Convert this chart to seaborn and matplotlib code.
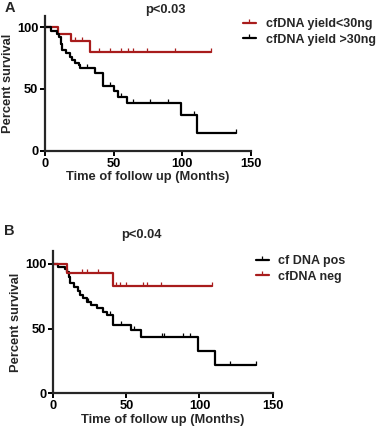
import numpy as np
import pandas as pd
import matplotlib
matplotlib.use("Agg")
import matplotlib.pyplot as plt
import seaborn as sns
from matplotlib.lines import Line2D

sns.set_theme(style="ticks")
plt.rcParams['font.family'] = ['Liberation Sans', 'DejaVu Sans']
plt.rcParams['font.weight'] = 'bold'

RED = "#A81C1C"
BLACK = "#000000"

# ---------- Panel A data ----------
a_low_t = [0, 9.5, 18.5, 32.7, 121]
a_low_s = [100, 94.5, 88.5, 79.7, 79.7]
a_low_cens = [22, 26.5, 39, 47, 55, 60.5, 64.3, 74, 94.5, 121]

a_high_t = [0, 4.2, 8.5, 10, 11.5, 12.3, 15, 18, 19.5, 21.7, 24.6, 25.3, 36.3, 42,
            50.2, 53.2, 60, 99.5, 110.8, 139]
a_high_s = [100, 97.4, 94.8, 92.1, 86.8, 81.6, 78.9, 76.3, 73.7, 71.0, 69.6, 66.8, 63.2, 52.8,
            48.5, 43.8, 38.9, 28.9, 14.7, 14.7]
a_high_cens = [30.5, 47, 55.3, 64, 76.5, 89.4, 109, 139]

# ---------- Panel B data ----------
b_pos_t = [0, 3, 8, 9.4, 10.7, 11.4, 14.2, 16.9, 18.3, 20.3, 23, 25.8, 29.9, 34, 36.7, 40.8,
           53.1, 60, 99.1, 110.5, 138.6]
b_pos_s = [100, 97.9, 96.0, 93.5, 90.0, 85.5, 82.5, 79.0, 76.0, 73.8, 70.9, 68.6, 66.2, 63.1, 60.6, 53.0,
           49.2, 43.5, 32.6, 21.9, 21.9]
b_pos_cens = [23.5, 38.5, 46.3, 55, 74.1, 76, 88.5, 93.5, 120.8, 138.6]

b_neg_t = [0, 9.2, 40.7, 108.5]
b_neg_s = [100, 93.0, 82.8, 82.8]
b_neg_cens = [20, 23.2, 30.7, 43, 46, 49.7, 61.5, 64, 74, 108.5]

x_ticks = [0, 50, 100, 150]
y_ticks = [0, 50, 100]

FS = 9.3
LFS = 9.0


def step_val(ts, ss, t):
    idx = np.searchsorted(np.asarray(ts), t, side='right') - 1
    return np.asarray(ss)[idx]


def draw_curve(ax, ts, ss, cens, color, label):
    df = pd.DataFrame({"t": ts, "s": ss})
    sns.lineplot(data=df, x="t", y="s", ax=ax, color=color, lw=1.6,
                 drawstyle="steps-post", estimator=None, sort=False, label=label,
                 legend=False)
    cy = [step_val(ts, ss, c) for c in cens]
    ax.plot(cens, cy, ls="none", marker=2, ms=3.0, mew=0.9, color=color)


def style_ax(ax, ymax):
    ax.set_xlim(0, 150)
    ax.set_ylim(0, ymax)
    ax.set_xticks(x_ticks)
    ax.set_yticks(y_ticks)
    ax.set_xticklabels([str(v) for v in x_ticks], fontsize=FS, fontweight='bold')
    ax.set_yticklabels([str(v) for v in y_ticks], fontsize=FS, fontweight='bold')
    ax.set_xlabel("Time of follow up (Months)", fontsize=FS, fontweight='bold', labelpad=1)
    ax.set_ylabel("Percent survival", fontsize=FS, fontweight='bold', labelpad=2)
    sns.despine(ax=ax)
    for sp in ("left", "bottom"):
        ax.spines[sp].set_linewidth(1.6)
    ax.tick_params(axis='both', width=1.4, length=3.5, pad=1.5, color='black', labelcolor='black')
    ax.margins(0)


fig = plt.figure(figsize=(3.8, 4.33), dpi=100)

# Panel A
axA = fig.add_axes([0.119, 0.652, 0.5405, 0.3106])
draw_curve(axA, a_low_t, a_low_s, a_low_cens, RED, "cfDNA yield<30ng")
draw_curve(axA, a_high_t, a_high_s, a_high_cens, BLACK, "cfDNA yield >30ng")
style_ax(axA, 109)
hA = [Line2D([], [], color=RED, lw=1.6, marker=2, ms=3.0, mew=0.9),
      Line2D([], [], color=BLACK, lw=1.6, marker=2, ms=3.0, mew=0.9)]
axA.legend(hA, ["cfDNA yield<30ng", "cfDNA yield >30ng"], loc="upper left",
           bbox_to_anchor=(243 / 380, 1 - 18 / 433), bbox_transform=fig.transFigure,
           frameon=False, handlelength=1.0, handletextpad=0.8, borderpad=0,
           borderaxespad=0, labelspacing=0.3, prop={'size': LFS, 'weight': 'bold'})
fig.text(165 / 380, 1 - 10 / 433, "p<0.03", ha="center", va="center", fontsize=FS, fontweight='bold')
fig.text(5 / 380, 1 - 8 / 433, "A", ha="left", va="center", fontsize=10.5, fontweight='bold')

# Panel B
axB = fig.add_axes([0.140, 0.0917, 0.5774, 0.3285])
draw_curve(axB, b_pos_t, b_pos_s, b_pos_cens, BLACK, "cf DNA pos")
draw_curve(axB, b_neg_t, b_neg_s, b_neg_cens, RED, "cfDNA neg")
style_ax(axB, 110)
hB = [Line2D([], [], color=BLACK, lw=1.6, marker=2, ms=3.0, mew=0.9),
      Line2D([], [], color=RED, lw=1.6, marker=2, ms=3.0, mew=0.9)]
axB.legend(hB, ["cf DNA pos", "cfDNA neg"], loc="upper left",
           bbox_to_anchor=(256 / 380, 1 - 255 / 433), bbox_transform=fig.transFigure,
           frameon=False, handlelength=1.0, handletextpad=0.8, borderpad=0,
           borderaxespad=0, labelspacing=0.3, prop={'size': LFS, 'weight': 'bold'})
fig.text(141 / 380, 1 - 235 / 433, "p<0.04", ha="center", va="center", fontsize=FS, fontweight='bold')
fig.text(4 / 380, 1 - 231 / 433, "B", ha="left", va="center", fontsize=10.5, fontweight='bold')

fig.savefig("out.png", dpi=100)
